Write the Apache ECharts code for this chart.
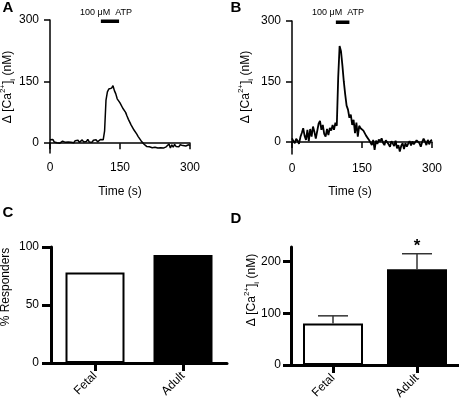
<!DOCTYPE html>
<html><head><meta charset="utf-8">
<script src="https://cdn.jsdelivr.net/npm/echarts@6/dist/echarts.min.js"></script>
<style>html,body{margin:0;padding:0;background:#fff}#c{width:459px;height:402px}</style>
</head><body><div id="c"></div>
<script>
// ---- data ----
var timeA = [0,3,6,9,12,15,18,21,24,27,30,33,36,39,42,45,48,51,54,57,60,63,66,69,72,75,78,81,84,87,90,93,96,99,102,105,108,111,114,117,120,123,126,129,132,135,138,141,144,147,150,153,156,159,162,165,168,171,174,177,180,183,186,189,192,195,198,201,204,207,210,213,216,219,222,225,228,231,234,237,240,243,246,249,252,255,258,261,264,267,270,273,276,279,282,285,288,291,294,297,300];
var caA = [8,6,9,3,5,1,4,0,3,5,1,2,6,3,7,2,5,1,6,3,7,2,5,8,3,6,4,9,3,6,2,7,4,8,3,6,9,5,8,30,105,125,132,128,134,140,128,120,108,110,98,100,85,88,75,66,58,55,44,40,32,28,22,16,12,6,3,-2,-5,-8,-10,-9,-12,-11,-13,-10,-14,-12,-15,-11,-14,-12,-15,-9,-13,-2,-12,-4,-10,-3,-8,-5,-9,-4,-8,-6,-3,-7,-5,-4,-6];
var timeB = [0,3,6,9,12,15,18,21,24,27,30,33,36,39,42,45,48,51,54,57,60,63,66,69,72,75,78,81,84,87,90,93,96,99,102,105,108,111,114,117,120,123,126,129,132,135,138,141,144,147,150,153,156,159,162,165,168,171,174,177,180,183,186,189,192,195,198,201,204,207,210,213,216,219,222,225,228,231,234,237,240,243,246,249,252,255,258,261,264,267,270,273,276,279,282,285,288,291,294,297,300];
var caB = [9,2,-3,8,3,-5,12,22,34,15,5,30,2,32,13,38,25,8,5,45,52,30,42,20,13,32,17,35,28,42,30,48,40,160,238,225,190,150,118,90,80,60,68,42,55,22,48,13,40,34,38,28,32,15,18,5,8,-8,5,-20,3,-5,6,1,9,-2,-8,4,5,-6,-12,2,1,-10,3,-16,-8,-24,-10,-3,-18,-3,-12,-4,2,-9,1,-6,-8,4,5,-3,-12,0,8,1,-8,5,-6,3,5];
var atpA = [109, 148];
var atpB = [94, 123];
var atpLevel = 297;
var timeTicks = [0, 150, 300];
var traceTicks = [0, 150, 300];
var groups = ['Fetal', 'Adult'];
var responders = [78, 93];
var deltaCa = [80, 185];
var deltaCaErr = [15, 30];
var signif = ['', '*'];
var respTicks = [0, 50, 100];
var deltaTicks = [0, 100, 200];

// ---- chart ----
var FF = 'Liberation Sans, Arial, sans-serif';
var chart = echarts.init(document.getElementById('c'), null, {renderer: 'canvas'});
function pair(t, v) { return t.map(function (x, i) { return [x, v[i]]; }); }
var thin = {color: '#000', width: 1.5};
var thick = {color: '#000', width: 3};
var lab = {color: '#000', fontSize: 12, fontFamily: FF};

function valX(gi, ticks) {
  return {type: 'value', gridIndex: gi, min: 0, max: 300, interval: 150,
    axisLine: {show: true, lineStyle: thin},
    axisTick: {show: true, inside: false, length: 6, lineStyle: thin, customValues: ticks},
    axisLabel: Object.assign({show: true, margin: 9, customValues: ticks}, lab), splitLine: {show: false}};
}
function valY(gi, min, max, ticks, th, tl, mg) {
  return {type: 'value', gridIndex: gi, min: min, max: max, offset: th ? 0 : 2,
    axisLine: {show: true, lineStyle: th ? thick : thin},
    axisTick: {show: true, inside: false, length: tl, lineStyle: th ? thick : thin, customValues: ticks},
    axisLabel: Object.assign({show: true, margin: mg, customValues: ticks}, lab), splitLine: {show: false}};
}
function catX(gi) {
  return {type: 'category', gridIndex: gi, data: groups,
    axisLine: {show: true, lineStyle: thick},
    axisTick: {show: true, inside: false, alignWithLabel: true, length: 8, lineStyle: thick},
    axisLabel: Object.assign({show: true, rotate: 45, margin: 11}, lab), splitLine: {show: false}};
}
var yRich = {
  n: {fontSize: 12, fontFamily: FF, color: '#000', lineHeight: 18},
  sup: {fontSize: 8, fontFamily: FF, color: '#000', lineHeight: 10, verticalAlign: 'top'},
  sub: {fontSize: 8, fontFamily: FF, color: '#000', lineHeight: 10, verticalAlign: 'bottom'}
};
var caText = '{n|\u0394 [Ca}{sup|2+}{n|]}{sub|i}{n| (nM)}';
function gtext(x, y, text, size, bold, rot, rich) {
  return {type: 'text', x: x, y: y, rotation: rot || 0, silent: true,
    style: {text: text, fontSize: size, fontWeight: bold ? 'bold' : 'normal', fontFamily: FF,
      fill: '#000', align: 'center', verticalAlign: 'middle', rich: rich}};
}

var option = {
  animation: false,
  backgroundColor: '#fff',
  grid: [
    {left: 50, top: 20, width: 140, height: 133},
    {left: 292, top: 21, width: 140, height: 133},
    {left: 51, top: 247, width: 176, height: 116},
    {left: 291, top: 247, width: 178, height: 118}
  ],
  xAxis: [valX(0, timeTicks), valX(1, timeTicks), catX(2), catX(3)],
  yAxis: [
    valY(0, -24, 300, traceTicks, false, 6, 9),
    valY(1, -30, 300, traceTicks, false, 6, 9),
    valY(2, 0, 100, respTicks, true, 9, 12),
    valY(3, 0, 228, deltaTicks, true, 8, 10)
  ],
  series: [
    {type: 'line', xAxisIndex: 0, yAxisIndex: 0, data: pair(timeA, caA), symbol: 'none', lineStyle: {color: '#000', width: 1.5}},
    {type: 'line', xAxisIndex: 0, yAxisIndex: 0, data: [[atpA[0], atpLevel], [atpA[1], atpLevel]], symbol: 'none', lineStyle: {color: '#000', width: 3.5}},
    {type: 'line', xAxisIndex: 1, yAxisIndex: 1, data: pair(timeB, caB), symbol: 'none', lineStyle: {color: '#000', width: 1.8}},
    {type: 'line', xAxisIndex: 1, yAxisIndex: 1, data: [[atpB[0], atpLevel], [atpB[1], atpLevel]], symbol: 'none', lineStyle: {color: '#000', width: 3.5}},
    {type: 'bar', xAxisIndex: 2, yAxisIndex: 2, barWidth: 59,
      data: responders.map(function (v, i) { return {value: v, itemStyle: i === 0 ? {color: '#fff', borderColor: '#000', borderWidth: 2} : {color: '#000'}}; })},
    {type: 'bar', xAxisIndex: 3, yAxisIndex: 3, barWidth: 60,
      data: deltaCa.map(function (v, i) { return {value: v, itemStyle: i === 0 ? {color: '#fff', borderColor: '#000', borderWidth: 2} : {color: '#000'}}; })},
    {type: 'custom', xAxisIndex: 3, yAxisIndex: 3, z: 5,
      data: deltaCa.map(function (v, i) { return [i, v, deltaCaErr[i]]; }),
      renderItem: function (params, api) {
        var i = api.value(0), m = api.value(1), e = api.value(2);
        var p0 = api.coord([i, m]), p1 = api.coord([i, m + e]);
        var st = {stroke: '#333', lineWidth: 1.5};
        var ch = [
          {type: 'line', shape: {x1: p0[0], y1: p0[1], x2: p1[0], y2: p1[1]}, style: st},
          {type: 'line', shape: {x1: p1[0] - 15, y1: p1[1], x2: p1[0] + 15, y2: p1[1]}, style: st}
        ];
        if (signif[params.dataIndex]) {
          ch.push({type: 'text', x: p1[0], y: p1[1] - 7,
            style: {text: signif[params.dataIndex], fontSize: 17, fontWeight: 'bold', fontFamily: FF, fill: '#000', align: 'center', verticalAlign: 'middle'}});
        }
        return {type: 'group', children: ch};
      }}
  ],
  graphic: [
    gtext(8, 8, 'A', 15, true),
    gtext(236, 8, 'B', 15, true),
    gtext(8, 213, 'C', 15, true),
    gtext(236, 219, 'D', 15, true),
    gtext(106, 13, '100 \u03bcM  ATP', 9),
    gtext(338, 13, '100 \u03bcM  ATP', 9),
    gtext(120, 192, 'Time (s)', 12),
    gtext(350, 192, 'Time (s)', 12),
    gtext(8, 87, caText, 12, false, Math.PI / 2, yRich),
    gtext(246, 87, caText, 12, false, Math.PI / 2, yRich),
    gtext(6, 287, '% Responders', 12, false, Math.PI / 2),
    gtext(252, 290, caText, 12, false, Math.PI / 2, yRich)
  ]
};
chart.setOption(option);
</script></body></html>
